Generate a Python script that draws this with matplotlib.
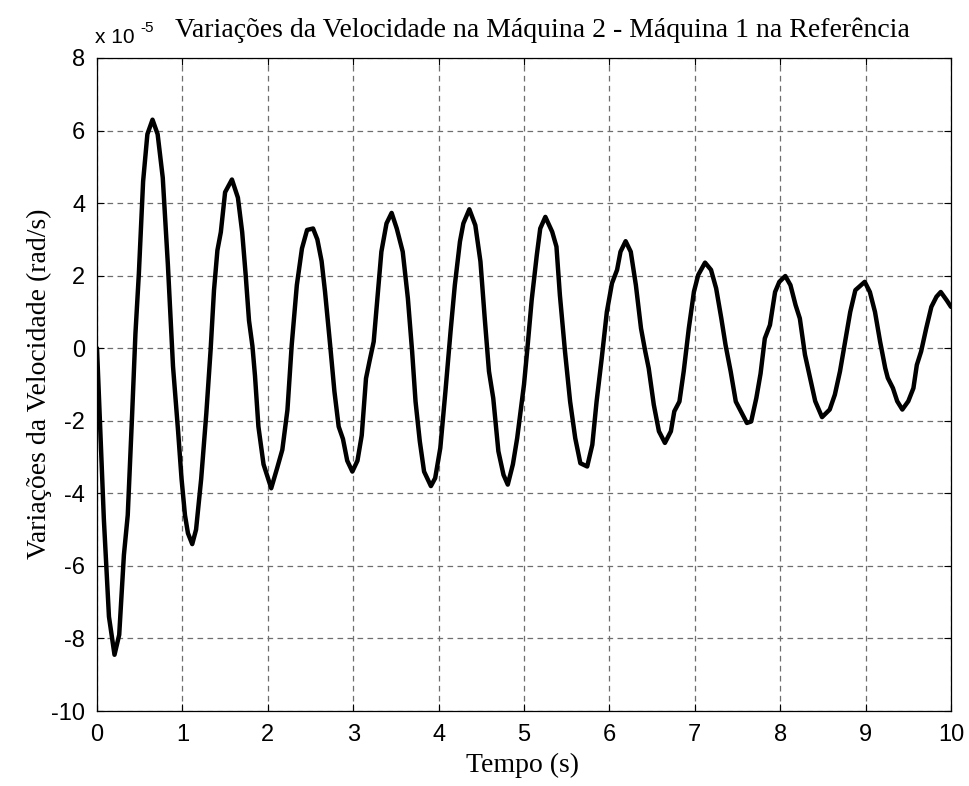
import matplotlib
matplotlib.use("Agg")
import matplotlib.pyplot as plt
from matplotlib.ticker import FuncFormatter

# Speed deviation of machine 2 (machine 1 as reference), in units of 1e-5 rad/s
SCALE = 1e-5
tempo = [
    0.00, 0.08, 0.14, 0.205, 0.26, 0.315, 0.36, 0.41, 0.45, 0.49, 0.54, 0.59,
    0.65, 0.71, 0.77, 0.83, 0.89, 0.95, 0.99, 1.03, 1.065, 1.115, 1.16, 1.22,
    1.28, 1.33, 1.37, 1.41, 1.45, 1.50, 1.58, 1.65, 1.70, 1.74, 1.78, 1.82,
    1.85, 1.89, 1.95, 2.04, 2.11, 2.17, 2.23, 2.28, 2.34, 2.40, 2.46, 2.53,
    2.58, 2.63, 2.67, 2.73, 2.78, 2.83, 2.88, 2.93, 2.99, 3.05, 3.10, 3.15,
    3.19, 3.24, 3.29, 3.33, 3.39, 3.45, 3.51, 3.58, 3.64, 3.69, 3.73, 3.78,
    3.83, 3.91, 3.96, 4.02, 4.08, 4.14, 4.19, 4.25, 4.29, 4.36, 4.43, 4.49,
    4.54, 4.59, 4.64, 4.70, 4.76, 4.81, 4.87, 4.92, 4.96, 5.00, 5.04, 5.09,
    5.15, 5.19, 5.25, 5.33, 5.38, 5.42, 5.48, 5.54, 5.60, 5.66, 5.74, 5.80,
    5.85, 5.91, 5.97, 6.03, 6.09, 6.13, 6.19, 6.25, 6.31, 6.37, 6.42, 6.46,
    6.52, 6.58, 6.65, 6.72, 6.76, 6.82, 6.87, 6.93, 6.99, 7.04, 7.12, 7.19,
    7.25, 7.31, 7.36, 7.42, 7.48, 7.54, 7.61, 7.66, 7.72, 7.77, 7.82, 7.88,
    7.94, 7.99, 8.06, 8.12, 8.18, 8.23, 8.29, 8.35, 8.41, 8.49, 8.58, 8.64,
    8.70, 8.76, 8.82, 8.88, 8.99, 9.05, 9.11, 9.17, 9.23, 9.26, 9.32, 9.37,
    9.43, 9.50, 9.56, 9.60, 9.65, 9.71, 9.77, 9.83, 9.88, 9.95, 10.00,
]
delta_w = [
    0.0, -4.7, -7.4, -8.45, -7.9, -5.7, -4.6, -1.9, 0.4, 2.05, 4.6, 5.9,
    6.3, 5.9, 4.7, 2.3, -0.5, -2.3, -3.6, -4.6, -5.1, -5.4, -5.0, -3.6,
    -1.8, -0.06, 1.6, 2.7, 3.2, 4.3, 4.65, 4.15, 3.2, 2.05, 0.76, 0.06,
    -0.76, -2.16, -3.2, -3.86, -3.3, -2.8, -1.7, 0.09, 1.74, 2.75, 3.26, 3.3,
    3.0, 2.4, 1.56, 0.09, -1.19, -2.16, -2.5, -3.1, -3.4, -3.1, -2.4, -0.83,
    -0.37, 0.18, 1.56, 2.66, 3.44, 3.73, 3.3, 2.66, 1.38, -0.09, -1.47, -2.57,
    -3.4, -3.8, -3.58, -2.75, -1.19, 0.46, 1.74, 2.94, 3.44, 3.83, 3.39, 2.39,
    0.83, -0.64, -1.38, -2.84, -3.49, -3.76, -3.2, -2.48, -1.74, -1.0, 0.0, 1.33,
    2.57, 3.3, 3.62, 3.21, 2.8, 1.47, -0.09, -1.47, -2.48, -3.17, -3.26, -2.66,
    -1.47, -0.28, 1.0, 1.79, 2.16, 2.66, 2.95, 2.66, 1.74, 0.55, -0.09, -0.55,
    -1.56, -2.29, -2.61, -2.29, -1.74, -1.47, -0.64, 0.55, 1.56, 2.02, 2.36, 2.16,
    1.65, 0.83, 0.09, -0.64, -1.47, -1.74, -2.06, -2.02, -1.38, -0.7, 0.27, 0.64,
    1.55, 1.83, 1.99, 1.74, 1.19, 0.82, -0.18, -0.82, -1.46, -1.90, -1.69, -1.28,
    -0.64, 0.18, 1.0, 1.6, 1.83, 1.55, 1.0, 0.18, -0.55, -0.82, -1.1, -1.46,
    -1.69, -1.46, -1.1, -0.46, -0.09, 0.55, 1.14, 1.42, 1.55, 1.32, 1.14,
]
x_ticks = list(range(0, 11))
y_ticks = list(range(-10, 9, 2))

titulo = "Variações da Velocidade na Máquina 2 - Máquina 1 na Referência"
rotulo_x = "Tempo (s)"
rotulo_y = "Variações da Velocidade (rad/s)"

SANS = ["Liberation Sans", "DejaVu Sans"]
SERIF = ["Liberation Serif", "DejaVu Serif"]

W, H = 969, 786
fig = plt.figure(figsize=(W / 100, H / 100), dpi=100)
ax = fig.add_axes([97 / W, 1 - 711 / H, (951 - 97) / W, (711 - 58) / H])

ax.plot(tempo, [v * SCALE for v in delta_w], color="black", lw=3.2,
        solid_joinstyle="round", solid_capstyle="round")

ax.set_xlim(0, 10)
ax.set_ylim(-10 * SCALE, 8 * SCALE)
ax.set_xticks(x_ticks)
ax.set_yticks([v * SCALE for v in y_ticks])
ax.xaxis.set_major_formatter(FuncFormatter(lambda v, p: f"{v:g}"))
ax.yaxis.set_major_formatter(FuncFormatter(lambda v, p: f"{round(v / SCALE):d}"))

ax.grid(True, color="#6e6e6e", lw=0.9, linestyle=(0, (4.5, 3.5)))
ax.tick_params(direction="in", length=5, width=0.8, top=True, right=True,
               labelsize=17, colors="black")
ax.tick_params(axis="x", pad=9.5)
ax.tick_params(axis="y", pad=8.5)
for lab in ax.get_xticklabels() + ax.get_yticklabels():
    lab.set_family(SANS)
for sp in ax.spines.values():
    sp.set_linewidth(0.9)

# Axis labels
fig.text(523 / W, 1 - 772 / H, rotulo_x, family=SERIF, fontsize=20,
         ha="center", va="baseline")
fig.text(39 / W, 1 - 384 / H, rotulo_y, family=SERIF, fontsize=20,
         rotation=90, ha="center", va="center")

# Multiplier label and title, MATLAB-style
fig.text(95 / W, 1 - 43 / H, "x 10", family=SANS, fontsize=15, ha="left", va="baseline")
fig.text(140 / W, 1 - 32 / H, "-5", family=SANS, fontsize=11, ha="left", va="baseline")
fig.text(542 / W, 1 - 37 / H, titulo, family=SERIF, fontsize=20, ha="center", va="baseline")

fig.savefig("out.png", dpi=100)
